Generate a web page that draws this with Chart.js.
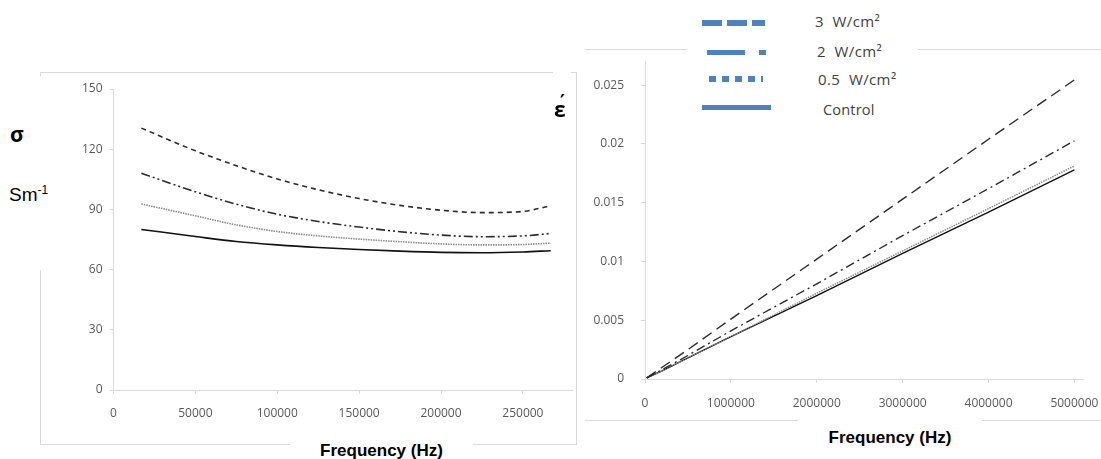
<!DOCTYPE html>
<html>
<head>
<meta charset="utf-8">
<script src="https://cdn.jsdelivr.net/npm/chart.js@4.4.1/dist/chart.umd.min.js"></script>
<style>
  html, body { margin: 0; padding: 0; background: #fff; }
  body { width: 1101px; height: 459px; position: relative; overflow: hidden; font-family: "Open Sans", "Liberation Sans", sans-serif; }
  .abs { position: absolute; }
  .frame { position: absolute; border: 1px solid #d9d9d9; box-sizing: border-box; }
  .cover { position: absolute; background: #fff; }
  .lbl { position: absolute; color: #000; white-space: nowrap; }
  .leg { position: absolute; height: 0; }
  .legtxt { position: absolute; color: #404040; font-size: 15px; letter-spacing: 0.4px; white-space: nowrap; }
</style>
</head>
<body>
<!-- chart frames -->
<div class="frame" style="left:40px;top:72px;width:537px;height:373px;"></div>
<div class="frame" style="left:585px;top:49px;width:530px;height:372px;border-left:none;"></div>

<div class="abs" style="left:0;top:0;width:580px;height:459px;"><canvas id="sigmaChart" width="580" height="459"></canvas></div>
<div class="abs" style="left:580px;top:0;width:521px;height:459px;"><canvas id="epsChart" width="521" height="459"></canvas></div>

<!-- axis titles -->
<div class="cover" style="left:0;top:76px;width:52px;height:194px;"></div>
<div class="lbl" style="left:10px;top:120px;font-size:21px;font-weight:bold;">σ</div>
<div class="lbl" style="left:9px;top:183px;font-size:19px;font-family:'Liberation Sans Narrow','Liberation Sans',sans-serif;">Sm<sup style="font-size:12px;">-1</sup></div>

<div class="cover" style="left:553px;top:66px;width:18px;height:56px;"></div>
<div class="lbl" style="left:554px;top:95px;font-size:21px;font-weight:bold;">ε</div>
<div class="lbl" style="left:560px;top:90px;font-size:19px;font-weight:bold;font-family:'DejaVu Sans',sans-serif;">′</div>

<div class="cover" style="left:290px;top:432px;width:183px;height:27px;"></div>
<div class="lbl" style="left:290px;top:441px;width:183px;text-align:center;font-size:17px;font-weight:bold;font-family:'Liberation Sans','Open Sans',sans-serif;">Frequency (Hz)</div>

<div class="cover" style="left:798px;top:412px;width:184px;height:40px;"></div>
<div class="lbl" style="left:798px;top:428px;width:184px;text-align:center;font-size:17px;font-weight:bold;font-family:'Liberation Sans','Open Sans',sans-serif;">Frequency (Hz)</div>

<!-- legend -->
<div class="cover" style="left:687px;top:0;width:231px;height:126px;"></div>
<div class="leg" style="left:702px;top:20px;width:63px;height:6px;background:repeating-linear-gradient(to right,#4f81bd 0 20px,transparent 20px 25px);"></div>
<div class="leg" style="left:707px;top:50px;width:59px;height:5px;background:linear-gradient(to right,#4f81bd 0 38px,transparent 38px 52px,#4f81bd 52px 59px);"></div>
<div class="leg" style="left:709px;top:76px;width:54px;height:6px;background:repeating-linear-gradient(to right,#4f81bd 0 7px,transparent 7px 13px);"></div>
<div class="leg" style="left:702px;top:105px;width:69px;height:5px;background:#4f81bd;"></div>
<div class="legtxt" style="left:815px;top:11px;">3 &nbsp;W/cm²</div>
<div class="legtxt" style="left:817px;top:41px;">2 &nbsp;W/cm²</div>
<div class="legtxt" style="left:818px;top:69px;">0.5 &nbsp;W/cm²</div>
<div class="legtxt" style="left:823px;top:100px;font-size:14.5px;letter-spacing:0.2px;">Control</div>

<script>
// conductivity chart (left)
const sigmaFreq = [17000, 50000, 75000, 100000, 125000, 150000, 175000, 200000, 225000, 250000, 267000];
const sigma3W = [130.5, 119.2, 111.8, 105.2, 99.8, 95.4, 92, 89.6, 88.4, 89, 91.8];
const sigma2W = [108, 98.8, 92.6, 87.6, 84, 81.2, 78.9, 77.2, 76.4, 76.8, 78];
const sigma05W = [92.7, 86.8, 82.3, 79, 76.8, 75.2, 73.9, 72.8, 72.3, 72.5, 73.2];
const sigmaControl = [80, 76.5, 74, 72.3, 71, 70, 69.2, 68.6, 68.4, 68.8, 69.4];
const sigmaXTicks = [0, 50000, 100000, 150000, 200000, 250000];
const sigmaYTicks = [0, 30, 60, 90, 120, 150];

// permittivity chart (right)
const epsFreq = [20000, 200000, 500000, 1000000, 2000000, 3000000, 4000000, 5000000];
const eps3W = [0.0001, 0.0010, 0.0025, 0.0051, 0.0102, 0.0153, 0.0204, 0.02545];
const eps2W = [0.0001, 0.0008, 0.0020, 0.0041, 0.0081, 0.0122, 0.0162, 0.02027];
const eps05W = [0.0001, 0.0007, 0.0018, 0.0036, 0.0073, 0.0109, 0.0145, 0.01813];
const epsControl = [0.0001, 0.0007, 0.0018, 0.0036, 0.0071, 0.0107, 0.0142, 0.0178];
const epsXTicks = [0, 1000000, 2000000, 3000000, 4000000, 5000000];
const epsYTicks = [0, 0.005, 0.01, 0.015, 0.02, 0.025];

const seriesNames = ['3 W/cm²', '2 W/cm²', '0.5 W/cm²', 'Control'];

function toPoints(xs, ys) {
    return xs.map((x, i) => ({ x: x, y: ys[i] }));
}

/**
 * Axis with light gray line, outside tick marks and fixed tick values
 */
function makeAxis(min, max, tickValues, pad, afterFit) {
    return {
        type: 'linear',
        min: min,
        max: max,
        afterBuildTicks: s => { s.ticks = tickValues.map(v => ({ value: v })); },
        afterFit: afterFit,
        border: { display: true, color: '#d9d9d9', width: 1 },
        grid: { display: true, drawOnChartArea: false, drawTicks: true, tickLength: 4, color: '#d9d9d9' },
        ticks: {
            color: '#595959',
            font: { family: 'Open Sans', size: 12 },
            padding: pad,
            maxRotation: 0,
            autoSkip: false,
            callback: v => String(v)
        }
    };
}

function makeChart(canvasId, opts) {
    const ctx = document.getElementById(canvasId);
    const ds = opts.sets.map((ys, i) => ({
        label: seriesNames[i],
        data: toPoints(opts.xs, ys),
        borderColor: opts.colors[i],
        borderWidth: opts.widths[i],
        borderDash: opts.dashes[i],
        pointRadius: 0,
        fill: false,
        cubicInterpolationMode: opts.smooth ? 'monotone' : 'default',
        tension: 0
    }));

    new Chart(ctx, {
        type: 'line',
        data: { datasets: ds },
        options: {
            responsive: false,
            animation: false,
            devicePixelRatio: 1,
            layout: { padding: opts.padding },
            plugins: { legend: { display: false }, tooltip: { enabled: false } },
            scales: {
                x: makeAxis(0, opts.xMax, opts.xTicks, opts.xPad, s => {
                    s.height = opts.xHeight;
                    // keep the plot width fixed, labels may hang over the edge
                    s.paddingLeft = 0;
                    s.paddingRight = 0;
                }),
                y: makeAxis(0, opts.yMax, opts.yTicks, opts.yPad, s => {
                    s.width = opts.yWidth;
                    s.paddingTop = 0;
                    s.paddingBottom = 0;
                })
            },
            events: []
        }
    });
}

makeChart('sigmaChart', {
    xs: sigmaFreq,
    sets: [sigma3W, sigma2W, sigma05W, sigmaControl],
    colors: ['#2b2b2b', '#2b2b2b', '#8a8a8a', '#111111'],
    widths: [1.6, 1.6, 1.6, 1.6],
    dashes: [[5, 4], [9, 3, 2, 3, 2, 3], [1.5, 1], []],
    smooth: true,
    xMax: 280000, xTicks: sigmaXTicks, xPad: 12, xHeight: 69,
    yMax: 150, yTicks: sigmaYTicks, yPad: 7, yWidth: 113.5,
    padding: { top: 89, right: 8, left: 0, bottom: 0 }
});

makeChart('epsChart', {
    xs: epsFreq,
    sets: [eps3W, eps2W, eps05W, epsControl],
    colors: ['#2b2b2b', '#2b2b2b', '#8a8a8a', '#111111'],
    widths: [1.4, 1.4, 1.5, 1.4],
    dashes: [[11, 6], [9, 4, 2, 4], [1.5, 1], []],
    smooth: false,
    xMax: 5100000, xTicks: epsXTicks, xPad: 13, xHeight: 80,
    yMax: 0.027, yTicks: epsYTicks, yPad: 17, yWidth: 65,
    padding: { top: 61.7, right: 18, left: 0, bottom: 0 }
});
</script>
</body>
</html>
